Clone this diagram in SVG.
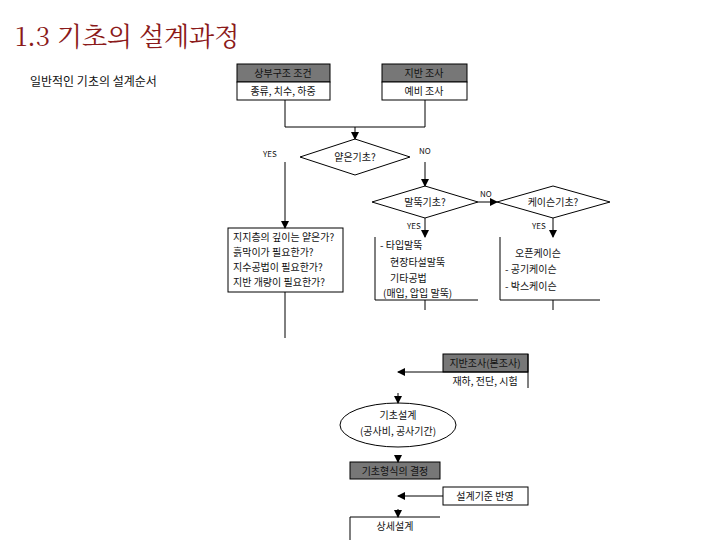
<svg xmlns="http://www.w3.org/2000/svg" width="720" height="540" viewBox="0 0 720 540">
<style>
text{font-family:"Noto Sans CJK KR","Noto Sans",sans-serif;font-size:10px;fill:#111}
.c{text-anchor:middle}
.l{stroke:#000;stroke-width:1;fill:none}
.b{stroke:#000;stroke-width:1;fill:#fff}
.g{stroke:#000;stroke-width:1;fill:#777}
.s{font-size:8px}
</style>
<defs><marker id="a" markerWidth="8" markerHeight="8" refX="7" refY="4" orient="auto" markerUnits="userSpaceOnUse"><path d="M0,0L8,4L0,8z" fill="#000"/></marker></defs>
<text x="15" y="46" style="font-family:'Noto Serif CJK KR','Liberation Serif',serif;font-size:26px;fill:#8b1a1a">1.3 기초의 설계과정</text>
<text x="30" y="86" style="font-size:12px">일반적인 기초의 설계순서</text>
<g id="n1"><rect class="g" x="237" y="64" width="93" height="18"/><rect class="b" x="237" y="82" width="93" height="18"/><text class="c" x="283" y="77">상부구조 조건</text><text class="c" x="283" y="95">종류, 치수, 하중</text></g>
<g id="n2"><rect class="g" x="382" y="64" width="85" height="18"/><rect class="b" x="382" y="82" width="85" height="18"/><text class="c" x="424" y="77">지반 조사</text><text class="c" x="424" y="95">예비 조사</text></g>
<g id="d1"><polygon class="b" points="300,157 355,139 410,157 355,175"/><text class="c" x="355" y="161">얕은기초?</text></g>
<g id="d2"><polygon class="b" points="372,202 425,186 478,202 425,218"/><text class="c" x="425" y="206">말뚝기초?</text></g>
<g id="d3"><polygon class="b" points="497,202 553,186 610,202 553,218"/><text class="c" x="553" y="206">케이슨기초?</text></g>
<g id="n3"><rect class="b" x="228" y="228" width="115" height="64"/><text x="233" y="241">지지층의 깊이는 얕은가?</text><text x="233" y="256">흙막이가 필요한가?</text><text x="233" y="271">지수공법이 필요한가?</text><text x="233" y="286">지반 개량이 필요한가?</text></g>
<g id="n4"><path class="l" d="M375,237V300H478"/><text x="380" y="249">- 타입말뚝</text><text x="390" y="266">현장타설말뚝</text><text x="390" y="282">기타공법</text><text x="383" y="297">(매입, 압입 말뚝)</text></g>
<g id="n5"><path class="l" d="M500,237V300H600"/><text x="515" y="257">오픈케이슨</text><text x="505" y="273">- 공기케이슨</text><text x="505" y="290">- 박스케이슨</text></g>
<g id="n6"><rect class="g" x="443" y="354" width="85" height="18"/><path class="l" d="M443,372H528M528,354V388"/><text class="c" x="485" y="367">지반조사(본조사)</text><text class="c" x="485" y="385">재하, 전단, 시험</text></g>
<g id="n7"><ellipse class="b" cx="398" cy="425" rx="58" ry="22"/><text class="c" x="398" y="419">기초설계</text><text class="c" x="398" y="435">(공사비, 공사기간)</text></g>
<g id="n8"><rect class="g" x="350" y="462" width="90" height="17"/><text class="c" x="395" y="475">기초형식의 결정</text></g>
<g id="n9"><rect class="b" x="443" y="487" width="85" height="18"/><text class="c" x="485" y="500">설계기준 반영</text></g>
<g id="n10"><path class="l" d="M350,540V517H440"/><text class="c" x="395" y="530">상세설계</text></g>
<g id="labels"><text class="s" x="263" y="157">YES</text><text class="s" x="419" y="154">NO</text><text class="s" x="480" y="197">NO</text><text class="s" x="407" y="229">YES</text><text class="s" x="532" y="229">YES</text></g>
<g id="connectors">
<path class="l" d="M285,100V127H425V100"/>
<path class="l" d="M355,127V139" marker-end="url(#a)"/>
<path class="l" d="M285,162V228" marker-end="url(#a)"/>
<path class="l" d="M425,162V186" marker-end="url(#a)"/>
<path class="l" d="M478,202H497" marker-end="url(#a)"/>
<path class="l" d="M425,218V237" marker-end="url(#a)"/>
<path class="l" d="M553,218V237" marker-end="url(#a)"/>
<path class="l" d="M285,292V338"/>
<path class="l" d="M425,300V310"/>
<path class="l" d="M553,300V310"/>
<path class="l" d="M443,372H398" marker-end="url(#a)"/>
<path class="l" d="M398,393V403" marker-end="url(#a)"/>
<path class="l" d="M398,455V462" marker-end="url(#a)"/>
<path class="l" d="M443,496H398" marker-end="url(#a)"/>
<path class="l" d="M398,509V517" marker-end="url(#a)"/>
</g>
</svg>
